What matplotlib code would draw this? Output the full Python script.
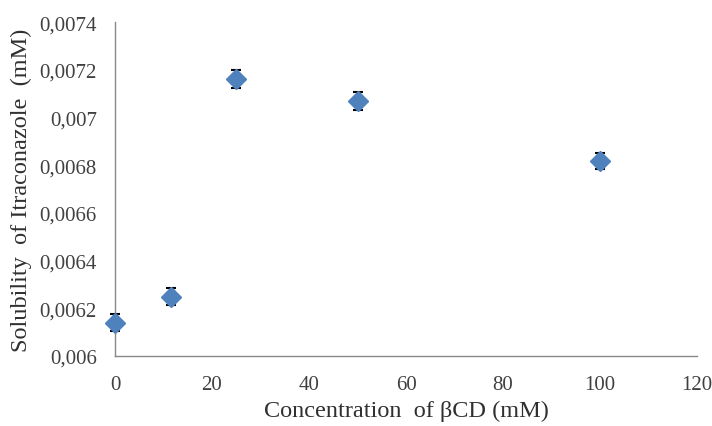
import matplotlib
matplotlib.use('Agg')
import matplotlib.pyplot as plt
from matplotlib.ticker import FuncFormatter

conc = [0, 11.5, 25, 50, 100]
solub = [0.006140, 0.006248, 0.007160, 0.007068, 0.006818]
err = [0.000035, 0.000035, 0.000037, 0.000037, 0.000035]

plt.rcParams['font.family'] = ['Liberation Serif', 'DejaVu Serif']

fig = plt.figure(figsize=(7.12, 4.27), dpi=100)
ax = fig.add_axes([0.1615, 0.164, 0.8175, 0.782])

ax.errorbar(conc, solub, yerr=err, fmt='D', color='#4F81BD', markersize=10,
            ecolor='black', elinewidth=1.2, capsize=3.5, capthick=1.5, clip_on=False, zorder=3)

ax.set_xlim(0, 120)
ax.set_ylim(0.006, 0.0074)
ax.set_xticks(range(0, 121, 20))
ax.set_yticks([0.006 + i * 0.0002 for i in range(8)])
ax.yaxis.set_major_formatter(FuncFormatter(lambda v, p: ('%.4f' % v).rstrip('0').replace('.', ',')))

for s in ['top', 'right']:
    ax.spines[s].set_visible(False)
for s in ['left', 'bottom']:
    ax.spines[s].set_color('#888888')
    ax.spines[s].set_linewidth(1)
ax.tick_params(length=0, labelsize=15, colors='#404040', pad=14)
ax.tick_params(axis='y', pad=13)

ax.set_xlabel('Concentration  of \u03b2CD (mM)', fontsize=17.5, color='#303030', labelpad=4)
ax.set_ylabel('Solubility  of Itraconazole  (mM)', fontsize=17.5, color='#303030', labelpad=5)

fig.savefig('out.png', dpi=100)
